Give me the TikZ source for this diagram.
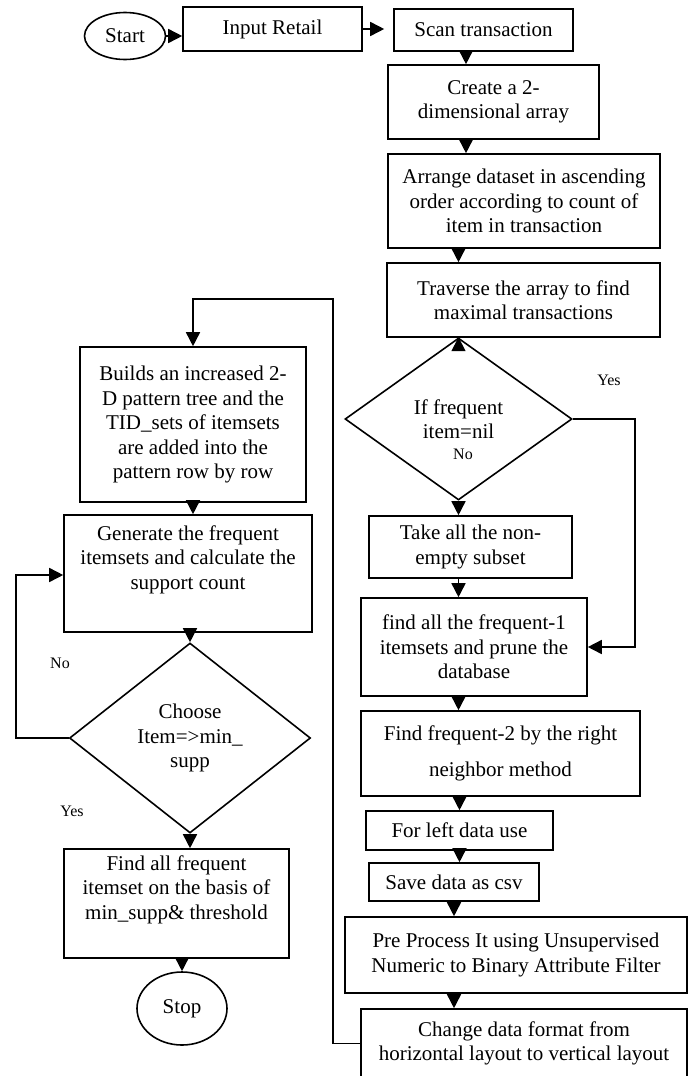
\documentclass[tikz,border=0pt]{standalone}
\usepackage{fontspec}
\setmainfont{Liberation Serif}
\usetikzlibrary{shapes.geometric,arrows.meta}

\tikzset{every picture/.style={line width=1.6pt}}
\tikzset{
  boxnode/.style={draw, rectangle, align=center, inner sep=0pt, font=\fontsize{21}{24.5}\selectfont},
  termnode/.style={draw, ellipse, inner sep=0pt, font=\fontsize{21}{24.5}\selectfont},
  decnode/.style={draw, diamond, align=center, inner sep=0pt, font=\fontsize{21}{24.5}\selectfont},
  yesno/.style={font=\fontsize{16}{18}\selectfont},
  flow/.style={-{Triangle[length=14pt,width=14pt]}},
}

\begin{document}
\begin{tikzpicture}[x=1pt,y=1pt,yscale=-1,xscale=1]
	\useasboundingbox (0,0) rectangle (690,1076);

	%Shape: Ellipse
	\node[termnode, minimum width=81pt, minimum height=47pt] (start) at (125,36) {Start};
	%Shape: Rectangle
	\node[boxnode, minimum width=179pt, minimum height=44pt] (input) at (272.5,29) {Input Retail};
	%Shape: Rectangle
	\node[boxnode, minimum width=179pt, minimum height=42pt] (scan) at (483.5,30) {Scan transaction};
	%Shape: Rectangle
	\node[boxnode, minimum width=211pt, minimum height=74pt] (create) at (493.5,102) {Create a 2-\\dimensional array};
	%Shape: Rectangle
	\node[boxnode, minimum width=272pt, minimum height=94pt] (arrange) at (524,201) {Arrange dataset in ascending\\order according to count of\\item in transaction};
	%Shape: Rectangle
	\node[boxnode, minimum width=273pt, minimum height=74pt] (traverse) at (523.5,300) {Traverse the array to find\\maximal transactions};
	%Shape: Diamond
	\node[decnode, minimum width=227pt, minimum height=162pt] (ifnil) at (458.5,419) {If frequent\\item=nil};
	%Shape: Rectangle
	\node[boxnode, minimum width=203pt, minimum height=62pt] (take) at (470.5,547) {Take all the non-\\empty subset};
	%Shape: Rectangle
	\node[boxnode, minimum width=226pt, minimum height=98pt] (find1) at (474,647) {find all the frequent-1\\itemsets and prune the\\database};
	%Shape: Rectangle
	\node[boxnode, minimum width=279pt, minimum height=85pt] (find2) at (500.5,753.5) {Find frequent-2 by the right\\[12pt]neighbor method};
	%Shape: Rectangle
	\node[boxnode, minimum width=187pt, minimum height=39pt] (leftdata) at (459.5,830.5) {For left data use};
	%Shape: Rectangle
	\node[boxnode, minimum width=170pt, minimum height=38pt] (save) at (454,882) {Save data as csv};
	%Shape: Rectangle
	\node[boxnode, minimum width=342pt, minimum height=76pt] (pre) at (516,955) {Pre Process It using Unsupervised\\Numeric to Binary Attribute Filter};
	%Shape: Rectangle
	\node[boxnode, minimum width=326pt, minimum height=69pt] (change) at (524,1043.5) {Change data format from\\horizontal layout to vertical layout};

	%Shape: Rectangle
	\node[boxnode, minimum width=226pt, minimum height=155pt] (builds) at (193,424.5) {Builds an increased 2-\\D pattern tree and the\\TID\_sets of itemsets\\are added into the\\pattern row by row};
	%Shape: Rectangle
	\node[boxnode, minimum width=248pt, minimum height=117pt] (generate) at (188,573.5) {Generate the frequent\\itemsets and calculate the\\support count\\ \strut};
	%Shape: Diamond
	\node[decnode, minimum width=241pt, minimum height=190pt] (choose) at (190,738) {Choose\\Item=>min\_\\supp};
	%Shape: Rectangle
	\node[boxnode, minimum width=225pt, minimum height=109pt] (findall) at (176.5,903.5) {Find all frequent\\itemset on the basis of\\min\_supp\& threshold\\ \strut};
	%Shape: Ellipse
	\node[termnode, minimum width=90pt, minimum height=73pt] (stop) at (182,1008.5) {Stop};

	% Text Node
	\node[yesno] (yes1) at (609,380) {Yes};
	% Text Node
	\node[yesno] (no1) at (463,454) {No};
	% Text Node
	\node[yesno] (no2) at (60,663) {No};
	% Text Node
	\node[yesno] (yes2) at (72,811) {Yes};

	\coordinate (col) at (466,0);
	\coordinate (yesturn) at (635,0);
	\coordinate (back) at (333,299);
	\coordinate (noturn) at (16,575);

	%Straight Lines
	\draw[flow] (start.east) -- (start.east -| input.west);
	\draw[flow, shorten >=9pt] (input.east) -- (input.east -| scan.west);
	\draw[flow] (scan.south -| col) -- (create.north -| col);
	\draw[flow] (create.south -| col) -- (arrange.north -| col);
	\draw[flow] (arrange.south -| ifnil.north) -- (traverse.north -| ifnil.north);
	\draw[flow] (traverse.south -| ifnil.north) -- (ifnil.north);
	\draw[flow] (ifnil.south) -- (ifnil.south |- take.north);
	\draw[flow] (take.south -| ifnil.south) -- (find1.north -| ifnil.south);
	\draw[flow] (find1.south -| ifnil.south) -- (find2.north -| ifnil.south);
	\draw[flow] (find2.south -| leftdata.north) -- (leftdata.north);
	\draw[flow] (leftdata.south) -- (leftdata.south |- save.north);
	\draw[flow] (save.south) -- (save.south |- pre.north);
	\draw[flow] (pre.south -| save.south) -- (change.north -| save.south);
	%Yes branch
	\draw[flow] (ifnil.east) -- (ifnil.east -| yesturn) -- (find1.east -| yesturn) -- (find1.east);
	%Back to the left column
	\draw[flow] (change.west) -- (change.west -| back) -- (back) -- (back -| builds.north) -- (builds.north);
	\draw[flow] (builds.south) -- (builds.south |- generate.north);
	\draw[flow] (generate.south -| choose.north) -- (choose.north);
	%No branch
	\draw[flow] (choose.west) -- (choose.west -| noturn) -- (noturn) -- (noturn -| generate.west);
	\draw[flow] (choose.south) -- (choose.south |- findall.north);
	\draw[flow] (findall.south -| stop.north) -- (stop.north);

\end{tikzpicture}
\end{document}
